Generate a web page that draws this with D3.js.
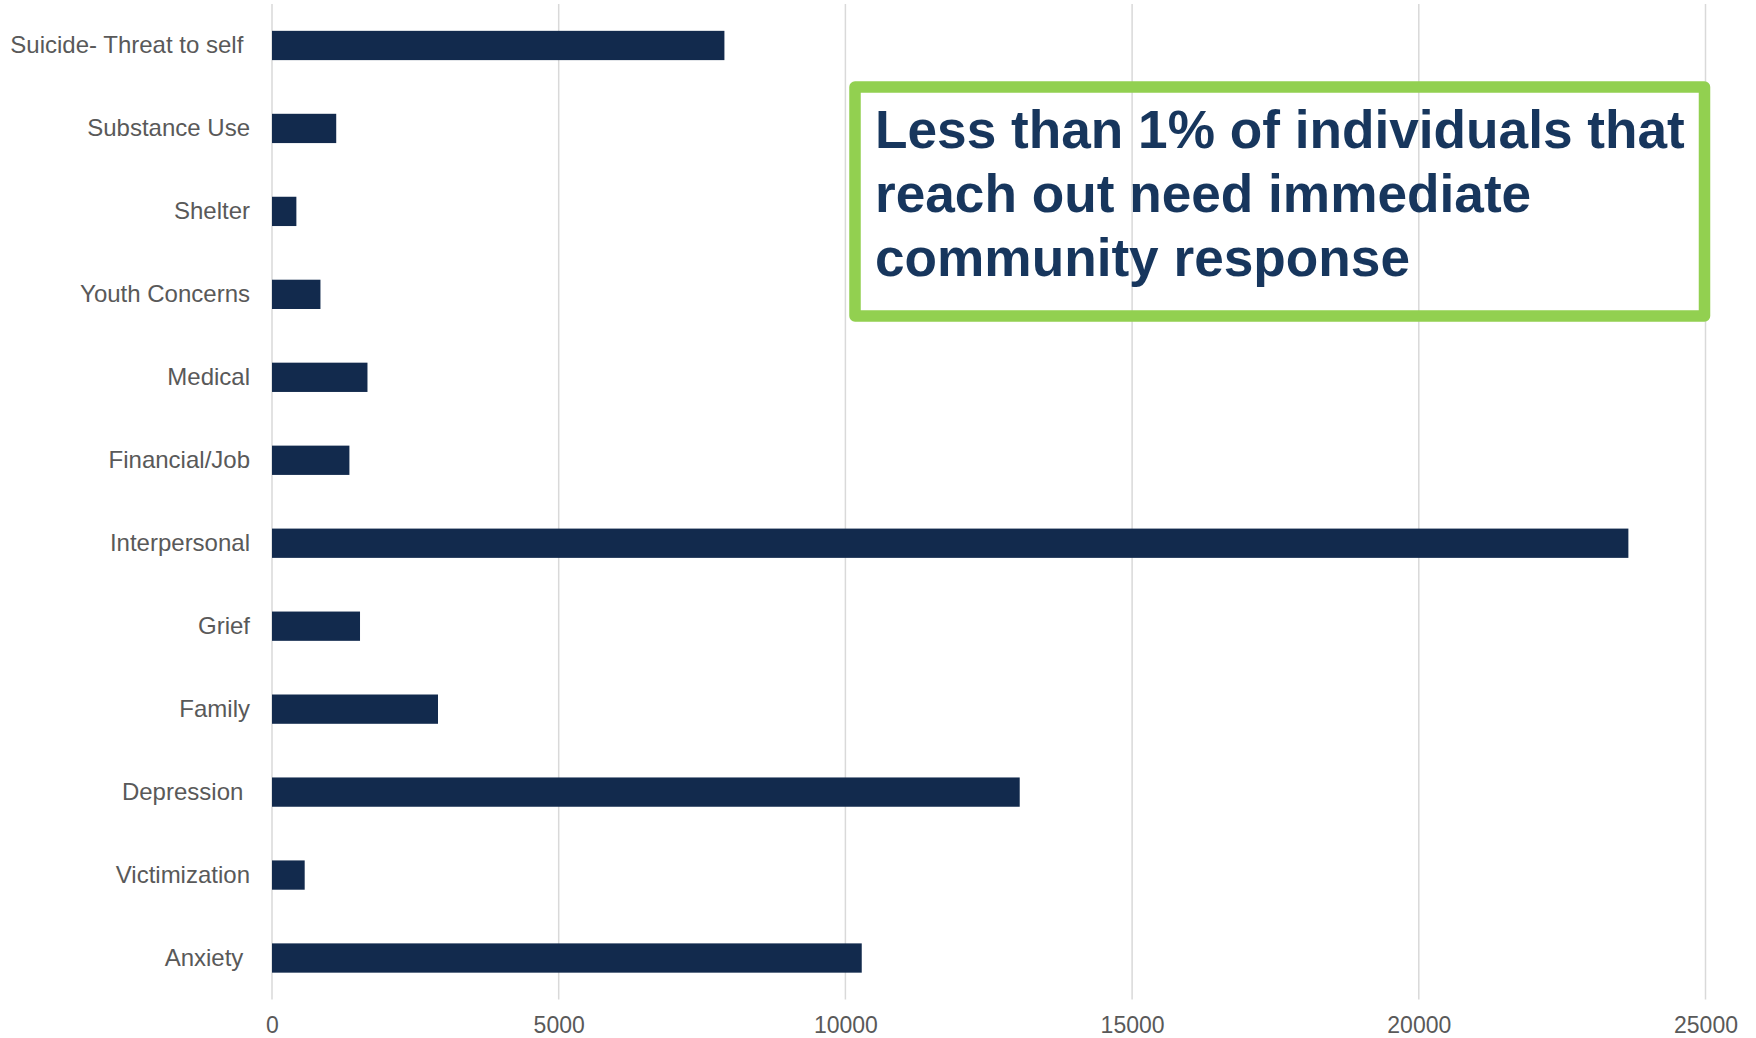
<!DOCTYPE html>
<html>
<head>
<meta charset="utf-8">
<script src="https://cdn.jsdelivr.net/npm/d3@7"></script>
<style>
  html, body { margin: 0; padding: 0; background: #ffffff; }
  svg { display: block; }
</style>
</head>
<body>
<svg id="chart" width="1756" height="1038"></svg>
<script>
// Contact reasons (top to bottom) and their counts
const categories = [
  "Suicide- Threat to self ",
  "Substance Use",
  "Shelter",
  "Youth Concerns",
  "Medical",
  "Financial/Job",
  "Interpersonal",
  "Grief",
  "Family",
  "Depression ",
  "Victimization",
  "Anxiety "
];
const counts = [7890, 1120, 425, 845, 1665, 1350, 23655, 1535, 2895, 13040, 570, 10285];
const xTicks = [0, 5000, 10000, 15000, 20000, 25000];
const calloutLines = [
  "Less than 1% of individuals that",
  "reach out need immediate",
  "community response"
];

const svg = d3.select("#chart");
const plotLeft = 272, plotRight = 1705.5, plotTop = 4, plotBottom = 999.5;

const x = d3.scaleLinear().domain([0, 25000]).range([plotLeft, plotRight]);
const y = d3.scaleBand().domain(categories).range([plotTop, plotBottom])
  .paddingInner(0.647).paddingOuter(0.3235);

// vertical gridlines
svg.append("g")
  .selectAll("line")
  .data(xTicks)
  .join("line")
  .attr("x1", d => x(d)).attr("x2", d => x(d))
  .attr("y1", plotTop).attr("y2", plotBottom)
  .attr("stroke", "#d9d9d9")
  .attr("stroke-width", 1.5);

// bars
svg.append("g")
  .selectAll("rect")
  .data(categories)
  .join("rect")
  .attr("x", x(0))
  .attr("y", d => y(d))
  .attr("width", (d, i) => x(counts[i]) - x(0))
  .attr("height", y.bandwidth())
  .attr("fill", "#122a4d");

// category labels
const yAxis = d3.axisLeft(y).tickSize(0).tickPadding(22);
const gy = svg.append("g").attr("transform", `translate(${plotLeft},0)`).call(yAxis);
gy.select(".domain").remove();
gy.selectAll("text")
  .attr("fill", "#595959")
  .style("white-space", "pre")
  .attr("font-family", "'Liberation Sans', Arial, sans-serif")
  .attr("font-size", 24);

// value axis labels
const xAxis = d3.axisBottom(x).tickValues(xTicks).tickFormat(d3.format("d")).tickSize(0).tickPadding(0);
const gx = svg.append("g").attr("transform", `translate(0,1017)`).call(xAxis);
gx.select(".domain").remove();
gx.selectAll("text")
  .attr("fill", "#595959")
  .attr("font-family", "'Liberation Sans', Arial, sans-serif")
  .attr("font-size", 23);

// callout box
svg.append("rect")
  .attr("x", 855).attr("y", 87)
  .attr("width", 849.5).attr("height", 229)
  .attr("fill", "none")
  .attr("stroke", "#92d050")
  .attr("stroke-width", 11.5)
  .attr("stroke-linejoin", "round");

svg.append("g")
  .selectAll("text")
  .data(calloutLines)
  .join("text")
  .attr("x", 875)
  .attr("y", (d, i) => 147.5 + i * 64)
  .attr("fill", "#17365d")
  .attr("font-family", "'Liberation Sans', Arial, sans-serif")
  .attr("font-weight", "bold")
  .attr("font-size", 53.2)
  .text(d => d);
</script>
</body>
</html>
